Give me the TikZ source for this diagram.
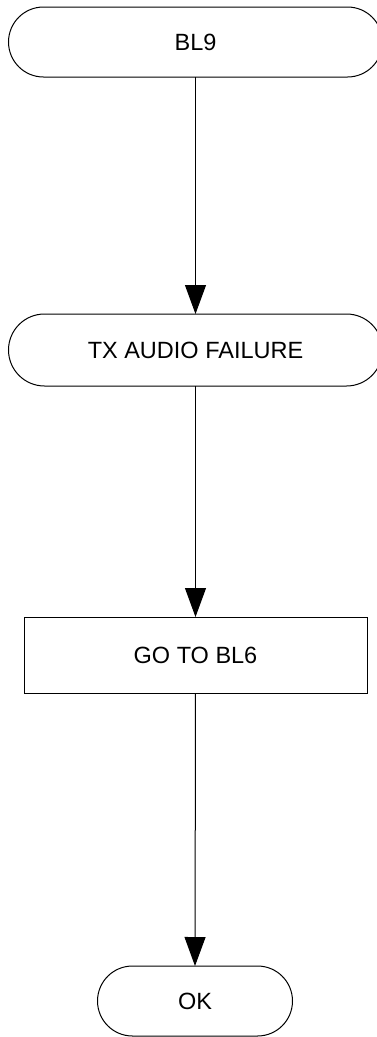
\documentclass[tikz,border=0pt]{standalone}
\usepackage{fontspec}
\setmainfont{Liberation Sans}
\usetikzlibrary{shapes.misc,arrows.meta}
\begin{document}
\begin{tikzpicture}[x=1pt,y=-1pt,
  term/.style={draw=black,line width=1pt,rounded rectangle,inner sep=0pt,outer sep=0pt,font=\fontsize{23.5}{28}\selectfont},
  proc/.style={draw=black,line width=1pt,rectangle,inner sep=0pt,outer sep=0pt,font=\fontsize{23.5}{28}\selectfont},
  conn/.style={draw=black,line width=1pt,-{Triangle[length=29pt,width=21pt]}}]
\useasboundingbox (0,0) rectangle (376,1037);
\node[term,minimum width=374pt,minimum height=70pt] (n1) at (195.5,42) {BL9};
\node[term,minimum width=374pt,minimum height=72pt] (n2) at (195.5,350) {TX AUDIO FAILURE};
\node[proc,minimum width=343pt,minimum height=76pt] (n3) at (195.5,655) {GO TO BL6};
\node[term,minimum width=195pt,minimum height=70pt] (n4) at (195,1001) {OK};
\draw[conn] (n1.south) -- (n2.north);
\draw[conn] (n2.south) -- (n3.north);
\draw[conn] (n3.south) -- (n4.north);
\end{tikzpicture}
\end{document}
